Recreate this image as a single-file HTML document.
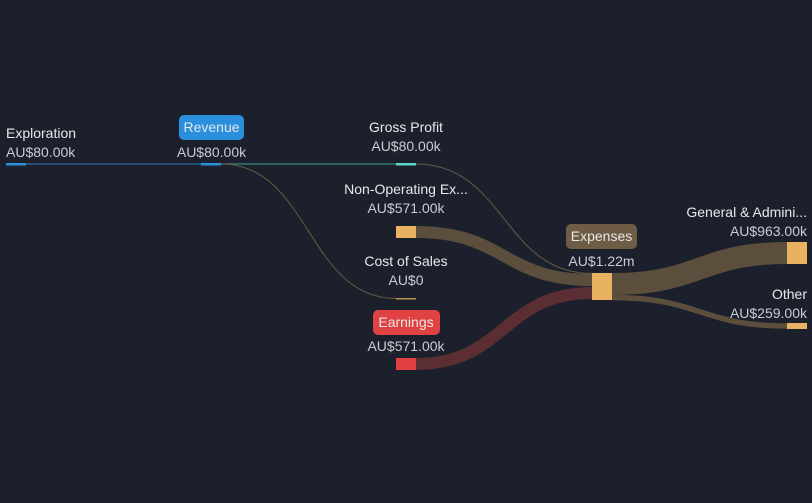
<!DOCTYPE html>
<html><head><style>
html,body{margin:0;background:#1b202c;overflow:hidden;width:812px;height:503px;}
svg{display:block}
svg text{font-family:"Liberation Sans",sans-serif;font-size:14px;}
.l{fill:#e8e8e8}.v{fill:#c8ccd2}
</style></head><body>
<svg width="812" height="503" viewBox="0 0 812 503" xmlns="http://www.w3.org/2000/svg">
<rect width="812" height="503" fill="#1b202c"/>
<path d="M26 164 L201 164" stroke="#2a6f9e" stroke-width="1.5" fill="none" opacity="0.8"/>
<path d="M221 164 L396 164" stroke="#3a8f88" stroke-width="1.5" fill="none" opacity="0.8"/>
<path d="M221 164 C310 164 307 298.5 396 298.5" stroke="#5a5240" stroke-width="1.2" fill="none"/>
<path d="M416 164 C505 164 503 273.5 592 273.5" stroke="#5a5240" stroke-width="1.2" fill="none"/>
<path d="M416 232 C505 232 503 280 592 280" stroke="#5c4e3c" stroke-width="12" fill="none"/>
<path d="M416 364 C505 364 503 293 592 293" stroke="#5a2e33" stroke-width="12" fill="none"/>
<path d="M612 284 C700 284 700 253 787 253" stroke="#5c4e3c" stroke-width="22" fill="none"/>
<path d="M612 297.5 C700 297.5 700 326 787 326" stroke="#5c4e3c" stroke-width="5.5" fill="none"/>
<rect x="6" y="163" width="20" height="2.5" fill="#2b8fd8"/>
<rect x="201" y="163" width="20" height="2.5" fill="#2b8fd8"/>
<rect x="396" y="163" width="20" height="2.5" fill="#5ed3c8"/>
<rect x="396" y="226" width="20" height="12" fill="#e8b260"/>
<rect x="396" y="298" width="20" height="1.5" fill="#b89050"/>
<rect x="396" y="358" width="20" height="12" fill="#e04040"/>
<rect x="592" y="273" width="20" height="27" fill="#e8b260"/>
<rect x="787" y="242" width="20" height="22" fill="#e8b260"/>
<rect x="787" y="323" width="20" height="6" fill="#e8b260"/>
<text x="6" y="138" class="l">Exploration</text>
<text x="6" y="157" class="v">AU$80.00k</text>
<rect x="179" y="115" width="65" height="25" rx="5" fill="#2a8fdc"/>
<text x="211.5" y="132" class="l" text-anchor="middle">Revenue</text>
<text x="211.5" y="157" class="v" text-anchor="middle">AU$80.00k</text>
<text x="406" y="132" class="l" text-anchor="middle">Gross Profit</text>
<text x="406" y="151" class="v" text-anchor="middle">AU$80.00k</text>
<text x="406" y="194" class="l" text-anchor="middle">Non-Operating Ex...</text>
<text x="406" y="213" class="v" text-anchor="middle">AU$571.00k</text>
<text x="406" y="266" class="l" text-anchor="middle">Cost of Sales</text>
<text x="406" y="285" class="v" text-anchor="middle">AU$0</text>
<rect x="373" y="310" width="67" height="25" rx="5" fill="#e04244"/>
<text x="406" y="327" class="l" text-anchor="middle">Earnings</text>
<text x="406" y="351" class="v" text-anchor="middle">AU$571.00k</text>
<rect x="566" y="224" width="71" height="25" rx="5" fill="#6e5c44"/>
<text x="601.5" y="241" class="l" text-anchor="middle">Expenses</text>
<text x="601.5" y="266" class="v" text-anchor="middle">AU$1.22m</text>
<text x="807" y="217" class="l" text-anchor="end">General &amp; Admini...</text>
<text x="807" y="236" class="v" text-anchor="end">AU$963.00k</text>
<text x="807" y="299" class="l" text-anchor="end">Other</text>
<text x="807" y="318" class="v" text-anchor="end">AU$259.00k</text>
</svg>
</body></html>
